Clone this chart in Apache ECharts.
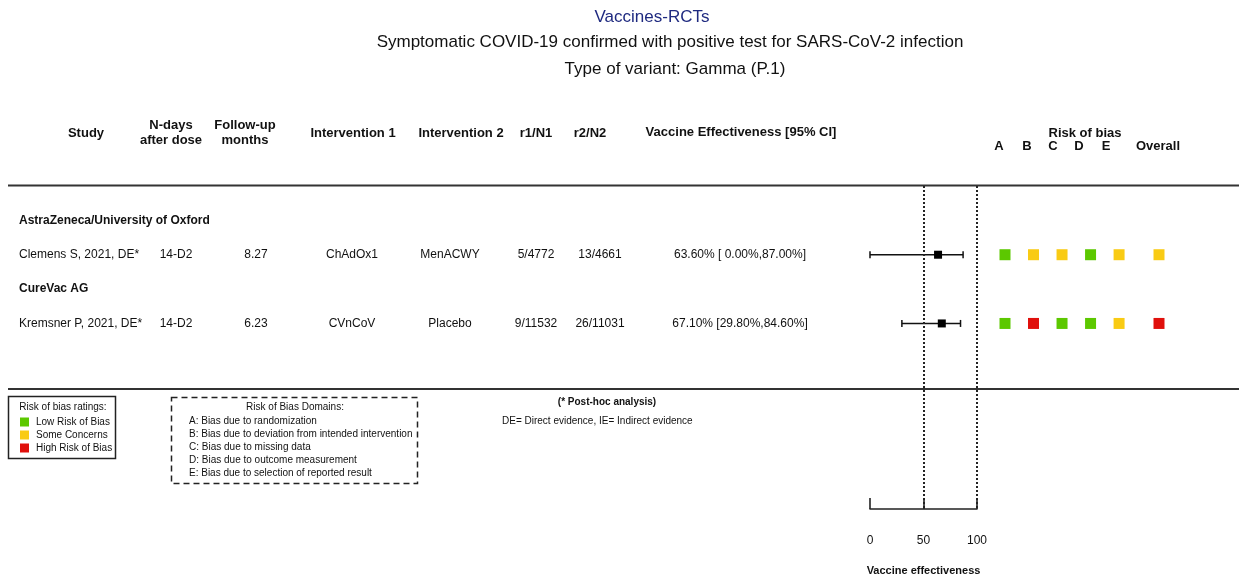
<!DOCTYPE html>
<html>
<head>
<meta charset="utf-8">
<script src="https://cdn.jsdelivr.net/npm/echarts@6/dist/echarts.min.js"></script>
<style>html,body{margin:0;padding:0;background:#fff}#main{width:1239px;height:579px}</style>
</head>
<body>
<div id="main"></div>
<script>
// ---- data ----
const titleMain = 'Vaccines-RCTs';
const titleSub1 = 'Symptomatic COVID-19 confirmed with positive test for SARS-CoV-2 infection';
const titleSub2 = 'Type of variant: Gamma (P.1)';
const groups = ['AstraZeneca/University of Oxford', 'CureVac AG'];
const studies = ['Clemens S, 2021, DE*', 'Kremsner P, 2021, DE*'];
const studyGroup = [0, 1];
const nDays = ['14-D2', '14-D2'];
const followUp = ['8.27', '6.23'];
const intervention1 = ['ChAdOx1', 'CVnCoV'];
const intervention2 = ['MenACWY', 'Placebo'];
const r1N1 = ['5/4772', '9/11532'];
const r2N2 = ['13/4661', '26/11031'];
const veEst = [63.6, 67.1];
const veLow = [0.0, 29.8];
const veHigh = [87.0, 84.6];
const robDomains = ['A', 'B', 'C', 'D', 'E', 'Overall'];
const robRatings = [
  ['L', 'S', 'S', 'L', 'S', 'S'],
  ['L', 'H', 'L', 'L', 'S', 'H']
];
const axisTicks = [0, 50, 100];
const refLines = [50, 100];
const ratingLabels = { L: 'Low Risk of Bias', S: 'Some Concerns', H: 'High Risk of Bias' };
const domainDescriptions = [
  'A: Bias due to randomization',
  'B: Bias due to deviation from intended intervention',
  'C: Bias due to missing data',
  'D: Bias due to outcome measurement',
  'E: Bias due to selection of reported result'
];

// ---- styles ----
const FONT = 'Liberation Sans, Arial, sans-serif';
const ratingColors = { L: '#5cc800', S: '#f9cb14', H: '#e0100c' };

// rows: group header then its studies
const rows = [];
groups.forEach((g, gi) => {
  rows.push({ kind: 'group', text: g });
  studies.forEach((s, si) => { if (studyGroup[si] === gi) rows.push({ kind: 'study', idx: si }); });
});
const studyRow = {};
rows.forEach((r, k) => { if (r.kind === 'study') studyRow[r.idx] = k + 1; });

const fmt = v => v.toFixed(2);
const veText = veEst.map((v, i) => `${fmt(v)}% [${fmt(veLow[i]).padStart(5)}%,${fmt(veHigh[i])}%]`);

const forestData = studies.map((s, i) => [veEst[i], veLow[i], veHigh[i], studyRow[i]]);
const domainPos = j => (j < 5 ? j : 5.4);
const robData = [];
robRatings.forEach((r, i) => r.forEach((rt, j) => robData.push({ value: [domainPos(j), studyRow[i]], itemStyle: { color: ratingColors[rt], opacity: 1 } })));

const Y_MAX = 9.4;
const chart = echarts.init(document.getElementById('main'));
chart.setOption({
  animation: false,
  backgroundColor: '#fff',
  textStyle: { fontFamily: FONT },
  grid: [
    { left: 870, width: 107, top: 186, height: 323, outerBoundsMode: 'none', containLabel: false },
    { left: 1005, width: 154, top: 186, height: 323, outerBoundsMode: 'none', containLabel: false }
  ],
  xAxis: [
    {
      gridIndex: 0, type: 'value', position: 'bottom',
      min: axisTicks[0], max: axisTicks[axisTicks.length - 1], interval: 50,
      axisLine: { show: true, onZero: false, lineStyle: { color: '#222', width: 1.6 } },
      axisTick: { show: true, inside: true, length: 11, lineStyle: { color: '#222', width: 1.6 } },
      axisLabel: { fontSize: 12, color: '#111', margin: 26, fontFamily: FONT },
      splitLine: { show: false },
      name: 'Vaccine effectiveness', nameLocation: 'middle', nameGap: 56,
      nameTextStyle: { fontSize: 11, fontWeight: 'bold', color: '#111', fontFamily: FONT }
    },
    { gridIndex: 1, type: 'value', min: 0, max: 5.4, show: false }
  ],
  yAxis: [
    { gridIndex: 0, type: 'value', min: 0, max: Y_MAX, inverse: true, show: false },
    { gridIndex: 1, type: 'value', min: 0, max: Y_MAX, inverse: true, show: false }
  ],
  series: [
    {
      type: 'custom', xAxisIndex: 0, yAxisIndex: 0, data: forestData,
      renderItem: function (params, api) {
        const y = api.value(3);
        const pE = api.coord([api.value(0), y]);
        const pL = api.coord([api.value(1), y]);
        const pH = api.coord([api.value(2), y]);
        const st = { stroke: '#111', lineWidth: 1.5 };
        const cap = 3.5, sq = 8;
        return {
          type: 'group', children: [
            { type: 'line', shape: { x1: pL[0], y1: pL[1], x2: pH[0], y2: pH[1] }, style: st },
            { type: 'line', shape: { x1: pL[0], y1: pL[1] - cap, x2: pL[0], y2: pL[1] + cap }, style: st },
            { type: 'line', shape: { x1: pH[0], y1: pH[1] - cap, x2: pH[0], y2: pH[1] + cap }, style: st },
            { type: 'rect', shape: { x: pE[0] - sq / 2, y: pE[1] - sq / 2, width: sq, height: sq }, style: { fill: '#000' } }
          ]
        };
      },
      markLine: {
        silent: true, symbol: 'none', label: { show: false },
        lineStyle: { type: 'dotted', color: '#222', width: 2 },
        data: refLines.map(v => ({ xAxis: v }))
      }
    },
    {
      type: 'scatter', xAxisIndex: 1, yAxisIndex: 1, symbol: 'rect', symbolSize: 11,
      itemStyle: { opacity: 1 },
      data: robData
    }
  ]
});

// ---- text table via graphic (row y from the axis scale) ----
const rowY = k => chart.convertToPixel({ yAxisIndex: 0 }, k);
const g = [];
const txt = (x, y, text, o = {}) => g.push({
  type: 'text', x, y, silent: true,
  style: Object.assign({ text, fontFamily: FONT, fontSize: 12, fill: '#111', align: 'center', verticalAlign: 'middle' }, o)
});
const B13 = { fontSize: 13, fontWeight: 'bold' };

// titles
txt(652, 17, titleMain, { fontSize: 17, fill: '#1f2a80' });
txt(670, 42, titleSub1, { fontSize: 17 });
txt(675, 69, titleSub2, { fontSize: 17 });

// header
txt(86, 133, 'Study', B13);
txt(171, 125, 'N-days', B13); txt(171, 140, 'after dose', B13);
txt(245, 125, 'Follow-up', B13); txt(245, 140, 'months', B13);
txt(353, 133, 'Intervention 1', B13);
txt(461, 133, 'Intervention 2', B13);
txt(536, 133, 'r1/N1', B13);
txt(590, 133, 'r2/N2', B13);
txt(741, 132, 'Vaccine Effectiveness [95% CI]', B13);
txt(1085, 133, 'Risk of bias', B13);
const robHeaderX = [999, 1027, 1053, 1079, 1106, 1158];
robDomains.forEach((d, j) => txt(robHeaderX[j], 146, d, B13));

// header rules
g.push({ type: 'line', silent: true, shape: { x1: 8, y1: 185.5, x2: 1239, y2: 185.5 }, style: { stroke: '#333', lineWidth: 2 } });
g.push({ type: 'line', silent: true, shape: { x1: 8, y1: 389, x2: 1239, y2: 389 }, style: { stroke: '#333', lineWidth: 2 } });

// rows
rows.forEach((r, k) => {
  const y = rowY(k + 1);
  if (r.kind === 'group') {
    txt(19, y, r.text, { align: 'left', fontWeight: 'bold' });
  } else {
    const i = r.idx;
    txt(19, y, studies[i], { align: 'left' });
    txt(176, y, nDays[i]);
    txt(256, y, followUp[i]);
    txt(352, y, intervention1[i]);
    txt(450, y, intervention2[i]);
    txt(536, y, r1N1[i]);
    txt(600, y, r2N2[i]);
    txt(740, y, veText[i]);
  }
});

// ratings legend
g.push({ type: 'rect', silent: true, shape: { x: 8.5, y: 396.5, width: 107, height: 62 }, style: { fill: 'none', stroke: '#222', lineWidth: 1.5 } });
txt(63, 407, 'Risk of bias ratings:', { fontSize: 10 });
['L', 'S', 'H'].forEach((k, n) => {
  const y = 422 + n * 13;
  g.push({ type: 'rect', silent: true, shape: { x: 20, y: y - 4.5, width: 9, height: 9 }, style: { fill: ratingColors[k] } });
  txt(36, y, ratingLabels[k], { fontSize: 10, align: 'left' });
});

// domains legend
g.push({ type: 'rect', silent: true, shape: { x: 171.5, y: 397.5, width: 246, height: 86 }, style: { fill: 'none', stroke: '#222', lineWidth: 1.5, lineDash: [6, 4] } });
txt(295, 407, 'Risk of Bias Domains:', { fontSize: 10 });
domainDescriptions.forEach((d, n) => txt(189, 421 + n * 13, d, { fontSize: 10, align: 'left' }));

// notes
txt(607, 402, '(* Post-hoc analysis)', { fontSize: 10, fontWeight: 'bold' });
txt(502, 421, 'DE= Direct evidence, IE= Indirect evidence', { fontSize: 10, align: 'left' });

chart.setOption({ graphic: g });
</script>
</body>
</html>
